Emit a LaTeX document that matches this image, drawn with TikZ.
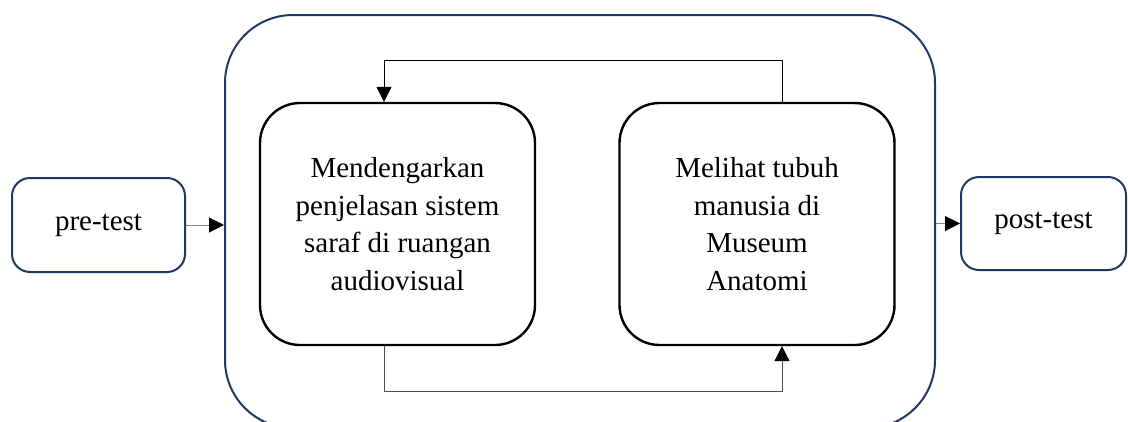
\documentclass[tikz,border=0pt]{standalone}
\usepackage{fontspec}
\setmainfont{Liberation Serif}
\usetikzlibrary{arrows.meta}
\definecolor{navy}{RGB}{31,56,100}

\begin{document}
\begin{tikzpicture}[x=1pt,y=-1pt,
  outerbox/.style={draw=navy,line width=2pt,rounded corners=18pt,inner sep=0pt},
  stagebox/.style={draw=black,line width=2.4pt,rounded corners=40pt,minimum width=275pt,minimum height=242pt,align=center,inner sep=0pt},
  txt/.style={font=\fontsize{29}{37.7}\selectfont},
  link/.style={line width=1pt,-{Triangle[length=15pt,width=15pt,color=black]}}]
\useasboundingbox (0,0) rectangle (1128,421);
% outer frame
\node[outerbox,rounded corners=68pt,minimum width=710pt,minimum height=413pt] (frame) at (580,221.5) {};
% pre and post
\node[outerbox,txt,minimum width=173pt,minimum height=94pt] (pre) at (98.5,225) {pre-test};
\node[outerbox,txt,minimum width=165pt,minimum height=93pt] (post) at (1043.5,223.5) {post-test};
% the two stages
\node[stagebox,txt] (mend) at (397.5,224) {Mendengarkan\\penjelasan sistem\\saraf di ruangan\\audiovisual};
\node[stagebox,txt] (mel) at (757,224) {Melihat tubuh\\manusia di\\Museum\\Anatomi};
% loop corners
\coordinate (tL) at (384,60);
\coordinate (tR) at (782,60);
\coordinate (bL) at (384,391);
\coordinate (bR) at (782,391);
\draw[link] (mel.north -| tR) -- (tR) -- (tL) -- (mend.north -| tL);
\draw[link,draw=black!70] (mend.south -| bL) -- (bL) -- (bR) -- (mel.south -| bR);
% in and out
\draw[link,draw=gray] (pre.east) -- (pre.east -| frame.west);
\draw[link,draw=gray] (post.west -| frame.east) -- (post.west);
\end{tikzpicture}
\end{document}
